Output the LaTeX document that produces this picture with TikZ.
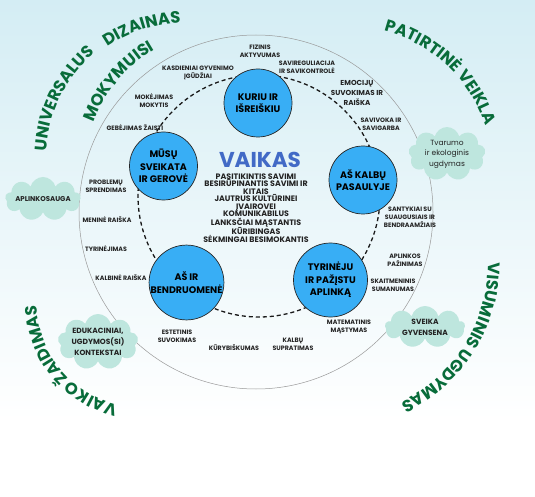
\documentclass[tikz,border=0pt]{standalone}
\usepackage{fontspec}
\setmainfont{Poppins}
\usetikzlibrary{shapes.symbols,decorations.text}
\definecolor{bgtop}{RGB}{212,237,244}
\definecolor{skyb}{RGB}{56,174,245}
\definecolor{cloudc}{RGB}{190,230,222}
\definecolor{dkgreen}{RGB}{8,108,58}
\definecolor{vblue}{RGB}{66,106,198}
\definecolor{lblc}{RGB}{35,35,35}
\newcommand\grn{\fontsize{16.5}{16.5}\selectfont\bfseries}
\begin{document}
\begin{tikzpicture}[x=1pt,y=1pt,
  bigc/.style={circle, fill=skyb, draw=black!85, line width=0.7pt, minimum size=68pt, inner sep=0pt, align=center, font=\fontsize{9.5}{12.5}\selectfont\bfseries},
  lbl/.style={align=center, inner sep=0pt, text=lblc, font=\fontsize{6.3}{8.2}\selectfont\bfseries},
  cloudn/.style={cloud, cloud puffs=9, cloud ignores aspect, fill=cloudc, draw=none, inner sep=0pt, align=center, text=lblc, font=\fontsize{7.5}{11}\selectfont\bfseries},
  greentext/.style={decorate, decoration={text along path, text align=center, text color=dkgreen, text={|\grn|#1}}},
  ringline/.style={black!90, line width=1.3pt, dash pattern=on 4pt off 3pt},
  outerline/.style={black!40, line width=0.5pt}
]
\useasboundingbox (0,0) rectangle (535,-497);
\shade[top color=bgtop, bottom color=white] (0,0) rectangle (535,-420);
\fill[white] (0,-420) rectangle (535,-497);

% outer circle
\draw[outerline] (256,-212) circle[radius=177pt];

% green curved titles
\path[greentext=UNIVERSALUS] ([shift={(180:138pt)}]184,-158) arc[start angle=180, end angle=127.5, radius=138pt];
\path[greentext=DIZAINAS] ([shift={(127:135pt)}]184,-158) arc[start angle=127, end angle=89, radius=135pt];
\path[greentext=MOKYMUISI] ([shift={(165:140pt)}]225,-171) arc[start angle=165, end angle=115, radius=140pt];
\path[greentext=PATIRTINĖ VEIKLA] ([shift={(85:146pt)}]347,-172) arc[start angle=85, end angle=9, radius=146pt];
\path[greentext=VISUMINIS UGDYMAS] ([shift={(8:153.5pt)}]334.5,-264) arc[start angle=8, end angle=-72, radius=153.5pt];
\path[greentext=VAIKO ŽAIDIMAS] ([shift={(262:105pt)}]142,-303) arc[start angle=262, end angle=176, radius=105pt];

% clouds
\node[cloudn, minimum width=77pt, minimum height=52pt, font=\fontsize{7.5}{10.5}\selectfont] (c1) at (447,-154) {Tvarumo\\ir ekologinis\\ugdymas};
\node[cloudn, minimum width=73pt, minimum height=44pt, font=\fontsize{7}{9}\selectfont\bfseries] (c2) at (43,-199) {APLINKOSAUGA};
\node[cloudn, minimum width=78pt, minimum height=52pt] (c3) at (98,-342) {EDUKACINIAI,\\UGDYMOS(SI)\\KONTEKSTAI};
\node[cloudn, minimum width=80pt, minimum height=42pt] (c4) at (425,-327) {SVEIKA\\GYVENSENA};

% dashed ring
\draw[ringline] (259,-196) circle[radius=121pt];

% blue circles
\node[bigc] (k) at (258,-103) {KURIU IR\\IŠREIŠKIU};
\node[bigc] (m) at (163.5,-166) {MŪSŲ\\SVEIKATA\\IR GEROVĖ};
\node[bigc] (p) at (363,-180) {AŠ KALBŲ\\PASAULYJE};
\node[bigc, minimum size=72pt] (b) at (186.5,-282.5) {AŠ IR\\BENDRUOMENĖ};
\node[bigc, minimum size=74pt] (t) at (330.5,-280) {TYRINĖJU\\IR PAŽĮSTU\\APLINKĄ};

% centre
\node[text=vblue, font=\fontsize{21.5}{21.5}\selectfont\bfseries, inner sep=0pt] (v) at (260,-160) {VAIKAS};
\node[align=center, inner sep=0pt, text=lblc, font=\fontsize{7.9}{7.5}\selectfont\bfseries] (traits) at (256,-208)
 {PASITIKINTIS SAVIMI\\BESIRŪPINANTIS SAVIMI IR\\KITAIS\\JAUTRUS KULTŪRINEI\\ĮVAIROVEI\\KOMUNIKABILUS\\LANKSČIAI MĄSTANTIS\\KŪRIBINGAS\\SĖKMINGAI BESIMOKANTIS};

% small labels
\node[lbl] (l1) at (260,-51) {FIZINIS\\AKTYVUMAS};
\node[lbl] (l2) at (307,-67) {SAVIREGULIACIJA\\IR SAVIKONTROLĖ};
\node[lbl] (l3) at (198,-73) {KASDIENIAI GYVENIMO\\ĮGŪDŽIAI};
\node[lbl] (l4) at (154,-101) {MOKĖJIMAS\\MOKYTIS};
\node[lbl] (l5) at (135,-128) {GEBĖJIMAS ŽAISTI};
\node[lbl, font=\fontsize{7.2}{10}\selectfont\bfseries] (l6) at (357,-93) {EMOCIJŲ\\SUVOKIMAS IR\\RAIŠKA};
\node[lbl] (l7) at (381,-124) {SAVIVOKA IR\\SAVIGARBA};
\node[lbl] (l8) at (106,-186) {PROBLEMŲ\\SPRENDIMAS};
\node[lbl] (l9) at (107,-220) {MENINĖ RAIŠKA};
\node[lbl] (l10) at (106,-249) {TYRINĖJIMAS};
\node[lbl] (l11) at (121,-278) {KALBINĖ RAIŠKA};
\node[lbl] (l12) at (177,-336) {ESTETINIS\\SUVOKIMAS};
\node[lbl] (l13) at (234,-348) {KŪRYBIŠKUMAS};
\node[lbl] (l14) at (293,-344) {KALBŲ\\SUPRATIMAS};
\node[lbl] (l15) at (349,-327) {MATEMATINIS\\MĄSTYMAS};
\node[lbl] (l16) at (393,-285) {SKAITMENINIS\\SUMANUMAS};
\node[lbl] (l17) at (405,-260) {APLINKOS\\PAŽINIMAS};
\node[lbl] (l18) at (410,-217) {SANTYKIAI SU\\SUAUGUSIAIS IR\\BENDRAAMŽIAIS};
\end{tikzpicture}
\end{document}
